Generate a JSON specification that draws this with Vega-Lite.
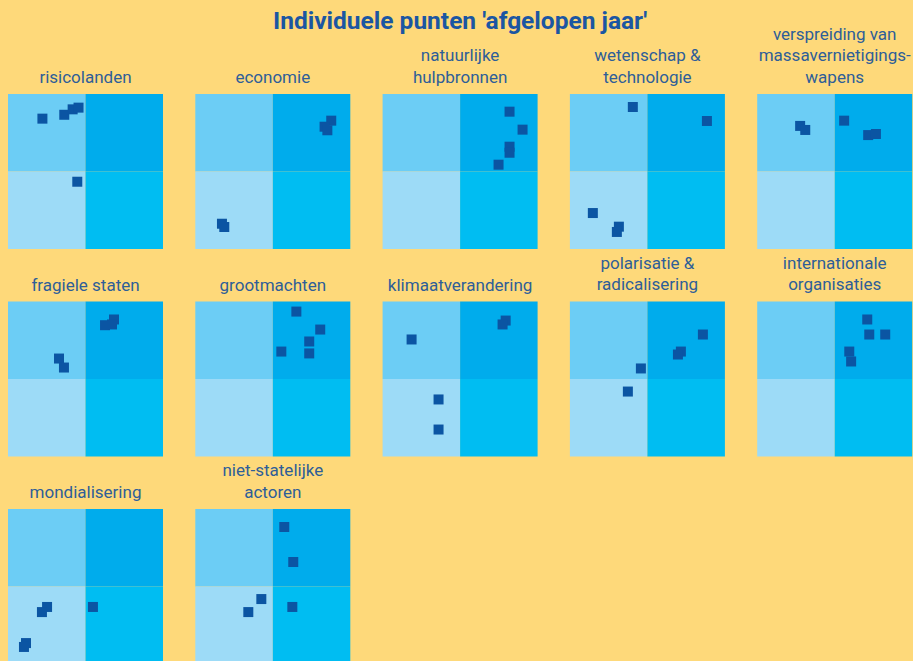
{
  "$schema": "https://vega.github.io/schema/vega-lite/v6.json",
  "background": "#fed97a",
  "padding": {"left": 8, "top": 9, "right": 0, "bottom": 0},
  "title": {
    "text": "Individuele punten 'afgelopen jaar'",
    "font": "Roboto",
    "fontSize": 24.5,
    "fontWeight": "bold",
    "color": "#1b56a2",
    "anchor": "middle",
    "offset": -9
  },
  "data": {
    "values": [
      {"onderwerp": "risicolanden", "kwadrant": "linksboven", "horizontaal": "links", "verticaal": "boven"},
      {"onderwerp": "risicolanden", "kwadrant": "rechtsboven", "horizontaal": "rechts", "verticaal": "boven"},
      {"onderwerp": "risicolanden", "kwadrant": "linksonder", "horizontaal": "links", "verticaal": "onder"},
      {"onderwerp": "risicolanden", "kwadrant": "rechtsonder", "horizontaal": "rechts", "verticaal": "onder"},
      {"onderwerp": "economie", "kwadrant": "linksboven", "horizontaal": "links", "verticaal": "boven"},
      {"onderwerp": "economie", "kwadrant": "rechtsboven", "horizontaal": "rechts", "verticaal": "boven"},
      {"onderwerp": "economie", "kwadrant": "linksonder", "horizontaal": "links", "verticaal": "onder"},
      {"onderwerp": "economie", "kwadrant": "rechtsonder", "horizontaal": "rechts", "verticaal": "onder"},
      {"onderwerp": "natuurlijke|hulpbronnen", "kwadrant": "linksboven", "horizontaal": "links", "verticaal": "boven"},
      {"onderwerp": "natuurlijke|hulpbronnen", "kwadrant": "rechtsboven", "horizontaal": "rechts", "verticaal": "boven"},
      {"onderwerp": "natuurlijke|hulpbronnen", "kwadrant": "linksonder", "horizontaal": "links", "verticaal": "onder"},
      {"onderwerp": "natuurlijke|hulpbronnen", "kwadrant": "rechtsonder", "horizontaal": "rechts", "verticaal": "onder"},
      {"onderwerp": "wetenschap &|technologie", "kwadrant": "linksboven", "horizontaal": "links", "verticaal": "boven"},
      {"onderwerp": "wetenschap &|technologie", "kwadrant": "rechtsboven", "horizontaal": "rechts", "verticaal": "boven"},
      {"onderwerp": "wetenschap &|technologie", "kwadrant": "linksonder", "horizontaal": "links", "verticaal": "onder"},
      {"onderwerp": "wetenschap &|technologie", "kwadrant": "rechtsonder", "horizontaal": "rechts", "verticaal": "onder"},
      {"onderwerp": "verspreiding van|massavernietigings-|wapens", "kwadrant": "linksboven", "horizontaal": "links", "verticaal": "boven"},
      {"onderwerp": "verspreiding van|massavernietigings-|wapens", "kwadrant": "rechtsboven", "horizontaal": "rechts", "verticaal": "boven"},
      {"onderwerp": "verspreiding van|massavernietigings-|wapens", "kwadrant": "linksonder", "horizontaal": "links", "verticaal": "onder"},
      {"onderwerp": "verspreiding van|massavernietigings-|wapens", "kwadrant": "rechtsonder", "horizontaal": "rechts", "verticaal": "onder"},
      {"onderwerp": "fragiele staten", "kwadrant": "linksboven", "horizontaal": "links", "verticaal": "boven"},
      {"onderwerp": "fragiele staten", "kwadrant": "rechtsboven", "horizontaal": "rechts", "verticaal": "boven"},
      {"onderwerp": "fragiele staten", "kwadrant": "linksonder", "horizontaal": "links", "verticaal": "onder"},
      {"onderwerp": "fragiele staten", "kwadrant": "rechtsonder", "horizontaal": "rechts", "verticaal": "onder"},
      {"onderwerp": "grootmachten", "kwadrant": "linksboven", "horizontaal": "links", "verticaal": "boven"},
      {"onderwerp": "grootmachten", "kwadrant": "rechtsboven", "horizontaal": "rechts", "verticaal": "boven"},
      {"onderwerp": "grootmachten", "kwadrant": "linksonder", "horizontaal": "links", "verticaal": "onder"},
      {"onderwerp": "grootmachten", "kwadrant": "rechtsonder", "horizontaal": "rechts", "verticaal": "onder"},
      {"onderwerp": "klimaatverandering", "kwadrant": "linksboven", "horizontaal": "links", "verticaal": "boven"},
      {"onderwerp": "klimaatverandering", "kwadrant": "rechtsboven", "horizontaal": "rechts", "verticaal": "boven"},
      {"onderwerp": "klimaatverandering", "kwadrant": "linksonder", "horizontaal": "links", "verticaal": "onder"},
      {"onderwerp": "klimaatverandering", "kwadrant": "rechtsonder", "horizontaal": "rechts", "verticaal": "onder"},
      {"onderwerp": "polarisatie &|radicalisering", "kwadrant": "linksboven", "horizontaal": "links", "verticaal": "boven"},
      {"onderwerp": "polarisatie &|radicalisering", "kwadrant": "rechtsboven", "horizontaal": "rechts", "verticaal": "boven"},
      {"onderwerp": "polarisatie &|radicalisering", "kwadrant": "linksonder", "horizontaal": "links", "verticaal": "onder"},
      {"onderwerp": "polarisatie &|radicalisering", "kwadrant": "rechtsonder", "horizontaal": "rechts", "verticaal": "onder"},
      {"onderwerp": "internationale|organisaties", "kwadrant": "linksboven", "horizontaal": "links", "verticaal": "boven"},
      {"onderwerp": "internationale|organisaties", "kwadrant": "rechtsboven", "horizontaal": "rechts", "verticaal": "boven"},
      {"onderwerp": "internationale|organisaties", "kwadrant": "linksonder", "horizontaal": "links", "verticaal": "onder"},
      {"onderwerp": "internationale|organisaties", "kwadrant": "rechtsonder", "horizontaal": "rechts", "verticaal": "onder"},
      {"onderwerp": "mondialisering", "kwadrant": "linksboven", "horizontaal": "links", "verticaal": "boven"},
      {"onderwerp": "mondialisering", "kwadrant": "rechtsboven", "horizontaal": "rechts", "verticaal": "boven"},
      {"onderwerp": "mondialisering", "kwadrant": "linksonder", "horizontaal": "links", "verticaal": "onder"},
      {"onderwerp": "mondialisering", "kwadrant": "rechtsonder", "horizontaal": "rechts", "verticaal": "onder"},
      {"onderwerp": "niet-statelijke|actoren", "kwadrant": "linksboven", "horizontaal": "links", "verticaal": "boven"},
      {"onderwerp": "niet-statelijke|actoren", "kwadrant": "rechtsboven", "horizontaal": "rechts", "verticaal": "boven"},
      {"onderwerp": "niet-statelijke|actoren", "kwadrant": "linksonder", "horizontaal": "links", "verticaal": "onder"},
      {"onderwerp": "niet-statelijke|actoren", "kwadrant": "rechtsonder", "horizontaal": "rechts", "verticaal": "onder"},

      {"onderwerp": "risicolanden", "x": 22.2, "y": 84.1},
      {"onderwerp": "risicolanden", "x": 36.3, "y": 86.6},
      {"onderwerp": "risicolanden", "x": 41.7, "y": 90.1},
      {"onderwerp": "risicolanden", "x": 45.5, "y": 91.2},
      {"onderwerp": "risicolanden", "x": 44.7, "y": 43.4},
      {"onderwerp": "economie", "x": 87.7, "y": 82.8},
      {"onderwerp": "economie", "x": 83.4, "y": 78.9},
      {"onderwerp": "economie", "x": 85.2, "y": 76.6},
      {"onderwerp": "economie", "x": 17.2, "y": 16.3},
      {"onderwerp": "economie", "x": 18.7, "y": 14.2},
      {"onderwerp": "natuurlijke|hulpbronnen", "x": 81.9, "y": 88.6},
      {"onderwerp": "natuurlijke|hulpbronnen", "x": 90.3, "y": 77.0},
      {"onderwerp": "natuurlijke|hulpbronnen", "x": 81.9, "y": 66.0},
      {"onderwerp": "natuurlijke|hulpbronnen", "x": 81.9, "y": 62.1},
      {"onderwerp": "natuurlijke|hulpbronnen", "x": 74.8, "y": 54.4},
      {"onderwerp": "wetenschap &|technologie", "x": 40.6, "y": 91.6},
      {"onderwerp": "wetenschap &|technologie", "x": 88.4, "y": 82.6},
      {"onderwerp": "wetenschap &|technologie", "x": 14.8, "y": 23.2},
      {"onderwerp": "wetenschap &|technologie", "x": 31.6, "y": 14.4},
      {"onderwerp": "wetenschap &|technologie", "x": 30.3, "y": 11.0},
      {"onderwerp": "verspreiding van|massavernietigings-|wapens", "x": 27.7, "y": 79.4},
      {"onderwerp": "verspreiding van|massavernietigings-|wapens", "x": 31.0, "y": 76.8},
      {"onderwerp": "verspreiding van|massavernietigings-|wapens", "x": 56.1, "y": 82.8},
      {"onderwerp": "verspreiding van|massavernietigings-|wapens", "x": 71.6, "y": 73.5},
      {"onderwerp": "verspreiding van|massavernietigings-|wapens", "x": 76.6, "y": 74.2},
      {"onderwerp": "fragiele staten", "x": 68.4, "y": 88.4},
      {"onderwerp": "fragiele staten", "x": 62.6, "y": 84.7},
      {"onderwerp": "fragiele staten", "x": 67.1, "y": 85.2},
      {"onderwerp": "fragiele staten", "x": 32.9, "y": 63.2},
      {"onderwerp": "fragiele staten", "x": 36.1, "y": 57.4},
      {"onderwerp": "grootmachten", "x": 65.2, "y": 93.5},
      {"onderwerp": "grootmachten", "x": 80.6, "y": 81.9},
      {"onderwerp": "grootmachten", "x": 73.5, "y": 74.2},
      {"onderwerp": "grootmachten", "x": 55.5, "y": 67.7},
      {"onderwerp": "grootmachten", "x": 73.5, "y": 66.5},
      {"onderwerp": "klimaatverandering", "x": 79.4, "y": 87.7},
      {"onderwerp": "klimaatverandering", "x": 77.4, "y": 85.2},
      {"onderwerp": "klimaatverandering", "x": 18.7, "y": 75.5},
      {"onderwerp": "klimaatverandering", "x": 36.1, "y": 36.8},
      {"onderwerp": "klimaatverandering", "x": 36.1, "y": 17.4},
      {"onderwerp": "polarisatie &|radicalisering", "x": 85.8, "y": 78.7},
      {"onderwerp": "polarisatie &|radicalisering", "x": 71.6, "y": 67.7},
      {"onderwerp": "polarisatie &|radicalisering", "x": 69.7, "y": 65.8},
      {"onderwerp": "polarisatie &|radicalisering", "x": 45.8, "y": 56.8},
      {"onderwerp": "polarisatie &|radicalisering", "x": 37.4, "y": 41.9},
      {"onderwerp": "internationale|organisaties", "x": 71.0, "y": 88.4},
      {"onderwerp": "internationale|organisaties", "x": 72.3, "y": 78.7},
      {"onderwerp": "internationale|organisaties", "x": 82.6, "y": 78.7},
      {"onderwerp": "internationale|organisaties", "x": 59.4, "y": 67.7},
      {"onderwerp": "internationale|organisaties", "x": 60.6, "y": 61.3},
      {"onderwerp": "mondialisering", "x": 25.2, "y": 36.8},
      {"onderwerp": "mondialisering", "x": 21.9, "y": 33.5},
      {"onderwerp": "mondialisering", "x": 54.8, "y": 36.8},
      {"onderwerp": "mondialisering", "x": 11.6, "y": 13.5},
      {"onderwerp": "mondialisering", "x": 10.3, "y": 11.0},
      {"onderwerp": "niet-statelijke|actoren", "x": 57.4, "y": 88.4},
      {"onderwerp": "niet-statelijke|actoren", "x": 63.2, "y": 65.8},
      {"onderwerp": "niet-statelijke|actoren", "x": 42.6, "y": 41.9},
      {"onderwerp": "niet-statelijke|actoren", "x": 34.2, "y": 33.5},
      {"onderwerp": "niet-statelijke|actoren", "x": 62.6, "y": 36.8}
    ]
  },
  "facet": {
    "field": "onderwerp",
    "type": "nominal",
    "title": null,
    "sort": [
      "risicolanden", "economie", "natuurlijke|hulpbronnen", "wetenschap &|technologie",
      "verspreiding van|massavernietigings-|wapens", "fragiele staten", "grootmachten",
      "klimaatverandering", "polarisatie &|radicalisering", "internationale|organisaties",
      "mondialisering", "niet-statelijke|actoren"
    ],
    "header": {
      "labelExpr": "split(datum.value, '|')",
      "labelFont": "Roboto",
      "labelFontSize": 17,
      "labelColor": "#2e5e98",
      "labelPadding": 7,
      "labelLineHeight": 21.7
    }
  },
  "columns": 5,
  "spacing": {"column": 32.3, "row": 5.5},
  "spec": {
    "width": 155,
    "height": 155,
    "layer": [
      {
        "transform": [{"filter": "isValid(datum.kwadrant)"}],
        "mark": {"type": "rect"},
        "encoding": {
          "x": {"field": "horizontaal", "type": "nominal", "scale": {"domain": ["links", "rechts"], "paddingInner": 0, "paddingOuter": 0}, "axis": null},
          "y": {"field": "verticaal", "type": "nominal", "scale": {"domain": ["boven", "onder"], "paddingInner": 0, "paddingOuter": 0}, "axis": null},
          "color": {
            "field": "kwadrant",
            "type": "nominal",
            "scale": {"domain": ["linksboven", "rechtsboven", "linksonder", "rechtsonder"], "range": ["#6ccdf5", "#00acec", "#9ddbf7", "#00bdf2"]},
            "legend": null
          }
        }
      },
      {
        "transform": [{"filter": "isValid(datum.x)"}],
        "mark": {"type": "square", "size": 100, "filled": true, "opacity": 1, "color": "#0b55a3"},
        "encoding": {
          "x": {"field": "x", "type": "quantitative", "scale": {"domain": [0, 100]}, "axis": null},
          "y": {"field": "y", "type": "quantitative", "scale": {"domain": [0, 100]}, "axis": null}
        }
      }
    ],
    "resolve": {"scale": {"x": "independent", "y": "independent"}}
  },
  "config": {"view": {"stroke": null}}
}
